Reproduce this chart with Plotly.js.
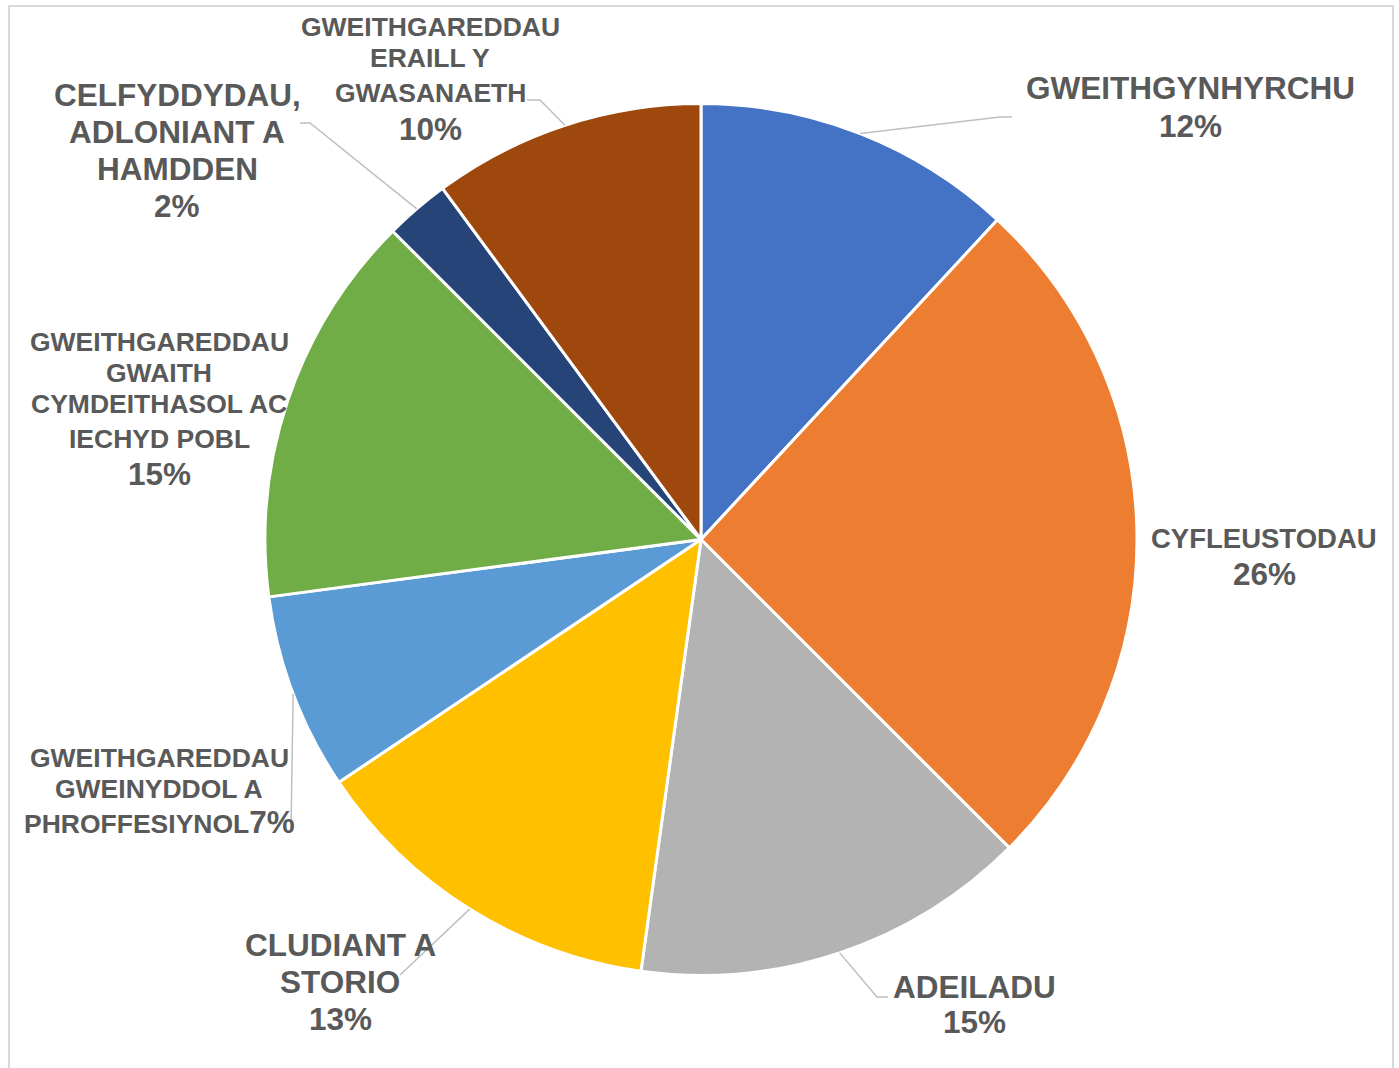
<!DOCTYPE html>
<html>
<head>
<meta charset="utf-8">
<script src="https://cdn.plot.ly/plotly-3.0.1.min.js"></script>
<style>
  html, body { margin: 0; padding: 0; background: #ffffff; }
  #chart { width: 1399px; height: 1068px; }
</style>
</head>
<body>
<div id="chart"></div>
<script>
// ---------------- DATA ----------------
const categories = [
  "GWEITHGYNHYRCHU",
  "CYFLEUSTODAU",
  "ADEILADU",
  "CLUDIANT A STORIO",
  "GWEITHGAREDDAU GWEINYDDOL A PHROFFESIYNOL",
  "GWEITHGAREDDAU GWAITH CYMDEITHASOL AC IECHYD POBL",
  "CELFYDDYDAU, ADLONIANT A HAMDDEN",
  "GWEITHGAREDDAU ERAILL Y GWASANAETH"
];
const shares = [11.9, 25.6, 14.7, 13.4, 7.3, 14.6, 2.4, 10.1];
const labelLines = [
  ["GWEITHGYNHYRCHU"],
  ["CYFLEUSTODAU"],
  ["ADEILADU"],
  ["CLUDIANT A", "STORIO"],
  ["GWEITHGAREDDAU", "GWEINYDDOL A", "PHROFFESIYNOL"],
  ["GWEITHGAREDDAU", "GWAITH", "CYMDEITHASOL AC", "IECHYD POBL"],
  ["CELFYDDYDAU,", "ADLONIANT A", "HAMDDEN"],
  ["GWEITHGAREDDAU", "ERAILL Y", "GWASANAETH"]
];

// ---------------- STYLE / LAYOUT ----------------
const W = 1399, H = 1068;
const colors = ["#4472C4", "#ED7D31", "#B3B3B3", "#FFC000", "#5B9BD5", "#70AD47", "#264478", "#9E480E"];
const textColor = "#595959";
const fontFam = "Liberation Sans, Arial, sans-serif";
const pieCx = 701, pieCy = 539.5, pieR = 436;

// label placement (pixel coords): centre x, y of each line, y of percent, sizes, leader path points
const place = [
  {cx: 1190, ys: [88], py: 126, fs: 31.5, ps: 31.5, lead: [[1012, 117], [1000, 117]]},
  {cx: 1264, ys: [538], py: 574, fs: 27.5, ps: 31.5, lead: null},
  {cx: 974, ys: [987], py: 1022, fs: 31.5, ps: 31.5, lead: [[888, 997], [877, 997]]},
  {cx: 340, ys: [945, 982], py: 1019, fs: 31.5, ps: 31.5, lead: [[400, 975]]},
  {cx: 159, ys: [758, 789, 822], py: null, fs: 26.5, ps: 31.5, lead: [[291, 830]]},
  {cx: 159, ys: [342, 373, 404, 439], py: 474, fs: 26.5, ps: 31.5, lead: null},
  {cx: 177, ys: [95, 132, 169], py: 206, fs: 31.5, ps: 31.5, lead: [[300, 123], [310, 123]]},
  {cx: 430, ys: [27, 58, 93], py: 129, fs: 26.5, ps: 31.5, lead: [[527, 100], [540, 100]]}
];

const px = x => x / W;
const py = y => 1 - y / H;

const total = shares.reduce((a, b) => a + b, 0);
const annotations = [];
const shapes = [];

// chart border
shapes.push({type: "rect", xref: "paper", yref: "paper",
  x0: px(9), x1: px(1393), y0: py(1075), y1: py(6),
  line: {color: "#D9D9D9", width: 2}, fillcolor: "rgba(0,0,0,0)", layer: "below"});

let cum = 0;
shares.forEach((v, i) => {
  const mid = (cum + v / 2) / total;
  cum += v;
  const th = mid * 2 * Math.PI;
  const ex = pieCx + pieR * Math.sin(th);
  const ey = pieCy - pieR * Math.cos(th);
  const p = place[i];
  const pct = Math.round(v) + "%";
  const lines = labelLines[i];
  lines.forEach((ln, j) => {
    let txt = ln;
    if (p.py === null && j === lines.length - 1) {
      txt = ln + "<span style='font-size:" + p.ps + "px'>" + pct + "</span>";
    }
    annotations.push({xref: "paper", yref: "paper", x: px(p.cx), y: py(p.ys[j]),
      xanchor: "center", yanchor: "middle", showarrow: false, text: txt,
      font: {family: fontFam, size: p.fs, color: textColor, weight: "bold"}});
  });
  if (p.py !== null) {
    annotations.push({xref: "paper", yref: "paper", x: px(p.cx), y: py(p.py),
      xanchor: "center", yanchor: "middle", showarrow: false, text: pct,
      font: {family: fontFam, size: p.ps, color: textColor, weight: "bold"}});
  }
  if (p.lead) {
    const pts = p.lead.concat([[ex, ey]]);
    let d = "M " + px(pts[0][0]) + " " + py(pts[0][1]);
    for (let k = 1; k < pts.length; k++) d += " L " + px(pts[k][0]) + " " + py(pts[k][1]);
    shapes.push({type: "path", xref: "paper", yref: "paper", path: d,
      line: {color: "#BFBFBF", width: 1.5}});
  }
});

const trace = {
  type: "pie",
  labels: categories,
  values: shares,
  sort: false,
  direction: "clockwise",
  rotation: 0,
  textinfo: "none",
  hoverinfo: "label+percent",
  marker: {colors: colors, line: {color: "#FFFFFF", width: 3}},
  domain: {x: [(pieCx - pieR) / W, (pieCx + pieR) / W], y: [(H - pieCy - pieR) / H, (H - pieCy + pieR) / H]},
  showlegend: false
};

const layout = {
  width: W, height: H,
  margin: {l: 0, r: 0, t: 0, b: 0},
  paper_bgcolor: "#FFFFFF",
  showlegend: false,
  annotations: annotations,
  shapes: shapes
};

Plotly.newPlot("chart", [trace], layout, {displayModeBar: false, staticPlot: true});
</script>
</body>
</html>
